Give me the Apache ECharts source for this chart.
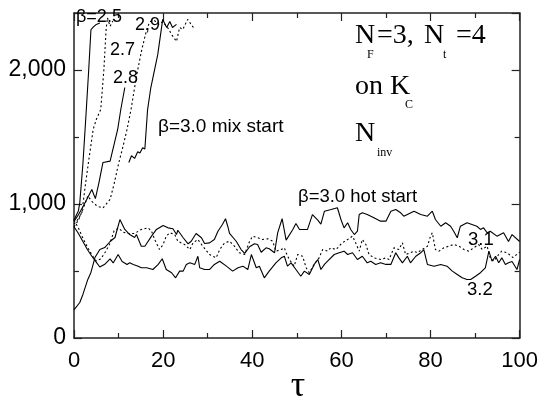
<!DOCTYPE html>
<html>
<head>
<meta charset="utf-8">
<script src="https://cdn.jsdelivr.net/npm/echarts@6/dist/echarts.min.js"></script>
<style>
html,body{margin:0;padding:0;background:#fff;}
#chart{width:541px;height:400px;}
</style>
</head>
<body>
<div id="chart"></div>
<script>
// ---- data: [tau, N_inv] ----
const xTicks = [0, 20, 40, 60, 80, 100];
const yTicks = [0, 1000, 2000];

const beta25 = [[0,880],[1,950],[1.3,1010],[2,1300],[2.7,1670],[3.3,2000],[3.8,2300],[4.3,2320],[5,2340],[5.8,2350]];
const beta27 = [[0,850],[1,890],[1.8,940],[2.5,1130],[3.2,1300],[4.3,1556],[5,1630],[6,1705],[6.7,2000],[7.2,2300],[7.5,2390],[8.1,2325],[8.7,2365]];
const beta28 = [[0,870],[1,920],[2,980],[2.5,1011],[3.1,1048],[4.0,1108],[4.8,1040],[5.6,1160],[6.5,1310],[8.1,1320],[9.8,1556],[10.5,1705],[11.4,1869]];
const beta29 = [[0,830],[1,880],[2,960],[3.1,1060],[4,1020],[5,990],[5.6,980],[6.5,970],[8.1,1034],[9,1150],[10,1300],[11,1430],[11.9,1556],[12.8,1705],[14,1950],[15.2,2150],[16.3,2300],[17,2360],[18,2370],[19,2340],[19.9,2360],[21,2317],[22,2260],[23,2213],[23.7,2317],[24.4,2302],[25.5,2377],[27.1,2302]];
const beta30mix = [[12.3,1310],[12.9,1360],[13.6,1340],[14.3,1390],[14.8,1380],[15.4,1420],[15.9,1410],[16.5,1700],[17.2,1860],[18.8,2116],[19.9,2377],[20.8,2317],[21.5,2362],[22.1,2317],[23,2340]];
const beta30hot = [[0,210],[1.3,265],[2,325],[3.1,437],[3.8,489],[4.7,600],[5.8,660],[6.9,675],[8.1,720],[9.2,750],[10.3,884],[11.4,810],[12.5,772],[13.6,750],[14.0,772],[15.1,685],[15.9,685],[17.4,760],[18.5,810],[20.0,840],[21.1,822],[22.2,815],[23.0,772],[23.3,804],[24.5,748],[25.6,703],[26.3,722],[27.4,780],[28.6,748],[29.3,705],[30.4,710],[31.5,735],[32.3,797],[33.3,847],[34.0,890],[34.5,834],[34.9,780],[36.4,722],[37.5,660],[38.3,631],[39.4,681],[40.5,703],[41.2,698],[42.0,640],[43.1,673],[43.8,666],[45.0,636],[45.7,785],[46.7,890],[47.6,730],[49.1,810],[49.8,854],[50.6,810],[52.4,810],[53.5,920],[54.7,880],[55.4,850],[56.2,946],[57.7,959],[59.1,972],[59.9,884],[60.6,822],[61.4,860],[62.1,810],[62.9,772],[63.6,797],[64.0,922],[64.7,934],[65.8,922],[67.3,897],[68.8,872],[70.0,872],[71.1,946],[72.2,959],[73.3,934],[74.0,909],[74.8,922],[76.3,946],[77.8,922],[79.3,909],[80.4,946],[81.1,884],[82.3,834],[83.4,860],[84.5,834],[85.2,797],[86.0,748],[86.7,834],[88.2,860],[89.3,847],[90.4,834],[91.2,810],[91.9,822],[92.7,785],[93.4,797],[94.9,760],[96.4,785],[97.5,720],[98.3,772],[100,720]];
const beta31 = [[0,880],[1,820],[2,745],[3,680],[4,620],[5,575],[6,590],[7,640],[8,700],[9,800],[10,820],[11,790],[12,780],[13.6,780],[15.1,810],[16.6,822],[17.4,797],[18.1,735],[19.2,660],[20.0,698],[20.7,760],[21.5,785],[22.6,772],[23.3,722],[24.8,698],[26.0,660],[26.7,710],[27.8,735],[28.9,685],[30.4,623],[31.9,598],[32.7,660],[33.8,710],[34.9,722],[36.0,685],[37.1,636],[38.3,623],[39.4,722],[40.1,760],[41.2,748],[42.3,735],[43.5,740],[44.6,722],[45.3,648],[46.5,660],[47.2,673],[47.6,636],[48.3,586],[49.4,536],[50.2,623],[51.3,610],[52.1,524],[52.8,487],[53.9,550],[55.0,598],[55.8,660],[56.9,648],[57.6,673],[58.8,660],[60.2,710],[61.4,735],[62.5,760],[63.2,710],[64.0,648],[64.7,735],[65.5,698],[66.2,623],[67.3,598],[68.8,586],[70.0,598],[70.7,586],[71.8,673],[72.9,660],[73.7,710],[74.4,623],[75.5,636],[76.3,648],[77.0,636],[78.1,660],[79.3,685],[80.0,760],[80.4,785],[81.1,660],[81.9,648],[83.0,673],[84.1,685],[85.2,698],[86.4,685],[87.5,660],[88.6,648],[89.7,673],[90.8,698],[91.6,660],[92.7,685],[93.4,598],[94.2,573],[95.3,623],[96.0,648],[97.2,636],[98.5,600],[100,640]];
const beta32 = [[0,830],[1,780],[2,720],[3,660],[4,610],[4.9,570],[5.8,530],[6.9,550],[8.1,590],[8.8,560],[9.9,623],[10.8,571],[11.9,549],[12.5,561],[13.3,549],[14.4,536],[15.1,524],[16.3,524],[17.7,511],[18.9,549],[19.8,591],[20.7,511],[21.9,487],[22.8,449],[23.7,499],[24.5,499],[25.2,549],[26.0,561],[27.1,549],[27.8,610],[28.2,524],[29.3,511],[30.4,511],[31.5,549],[32.7,573],[34.2,536],[35.6,499],[36.8,524],[37.9,536],[39.0,511],[39.8,623],[40.9,524],[41.6,536],[42.7,449],[43.8,499],[45.3,561],[46.5,598],[47.2,610],[47.9,536],[48.7,561],[49.8,511],[50.9,461],[51.7,499],[52.8,474],[53.9,549],[54.7,586],[55.4,511],[56.2,549],[56.9,573],[58.4,623],[59.5,636],[60.6,648],[61.4,623],[62.5,636],[63.6,586],[64.7,610],[65.8,561],[66.6,573],[67.7,549],[68.8,561],[70.0,549],[71.1,549],[72.2,636],[72.9,598],[73.7,561],[74.8,610],[75.5,561],[76.7,610],[77.8,636],[78.5,660],[79.3,549],[80.8,536],[82.3,549],[83.7,536],[84.9,499],[86.0,474],[87.1,449],[88.2,437],[89.0,437],[90.1,461],[91.2,487],[92.3,524],[93.1,648],[93.8,573],[94.6,610],[95.3,561],[96.0,598],[96.8,549],[97.5,561],[98.3,571],[99.4,511],[100,586]];

const X_MIN = 0, X_MAX = 100, Y_MIN = 0, Y_MAX = 2425;

const chart = echarts.init(document.getElementById('chart'), null, {renderer: 'canvas'});

const SANS = '"Liberation Sans", Arial, sans-serif';
const SERIF = '"Liberation Serif", "Times New Roman", serif';
const axisCol = '#222';

function axisCommon(extra) {
  return Object.assign({
    type: 'value',
    axisLine: {show: true, onZero: false, lineStyle: {color: axisCol, width: 1.5}},
    axisTick: {show: true, inside: true, length: 8, lineStyle: {color: axisCol, width: 1.2}},
    minorTick: {show: true, splitNumber: 2, length: 5, lineStyle: {color: axisCol, width: 1.2}},
    splitLine: {show: false},
    minorSplitLine: {show: false}
  }, extra);
}

function solid(data) {
  return {type: 'line', data: data, showSymbol: false, symbol: 'none', xAxisIndex: 0, yAxisIndex: 0,
    lineStyle: {color: '#000', width: 1.1}, animation: false, silent: true};
}
function dotted(data) {
  return {type: 'line', data: data, showSymbol: false, symbol: 'none', xAxisIndex: 0, yAxisIndex: 0,
    lineStyle: {color: '#000', width: 1.1, type: [2, 2.5]}, animation: false, silent: true};
}

function txt(x, y, text, size, family, align) {
  return {type: 'text', x: x, y: y, silent: true, z: 100,
    style: {text: text, fontSize: size, fontFamily: family, fill: '#000',
      align: align || 'left', textAlign: align || 'left',
      verticalAlign: 'middle', textVerticalAlign: 'middle'}};
}

const option = {
  animation: false,
  backgroundColor: '#fff',
  grid: {left: 74, right: 20, top: 13, bottom: 62, containLabel: false},
  xAxis: [
    axisCommon({position: 'bottom', min: X_MIN, max: X_MAX, interval: 20,
      axisLabel: {show: true, fontSize: 22, fontFamily: SANS, color: '#000', margin: 12,
        formatter: v => xTicks.includes(v) ? String(v) : ''}}),
    axisCommon({position: 'top', min: X_MIN, max: X_MAX, interval: 20, axisLabel: {show: false}})
  ],
  yAxis: [
    axisCommon({position: 'left', min: Y_MIN, max: Y_MAX, interval: 1000,
      axisLabel: {show: true, fontSize: 23, fontFamily: SANS, color: '#000', margin: 8,
        showMaxLabel: false,
        formatter: v => yTicks.includes(v) ? v.toLocaleString('en-US') : ''}}),
    axisCommon({position: 'right', min: Y_MIN, max: Y_MAX, interval: 1000, axisLabel: {show: false}})
  ],
  series: [
    solid(beta30hot), dotted(beta31), solid(beta32),
    solid(beta25), dotted(beta27), solid(beta28), dotted(beta29), solid(beta30mix)
  ],
  graphic: [
    txt(76, 17, 'β=2.5', 18, SANS),
    txt(110, 50, '2.7', 18, SANS),
    txt(113, 78, '2.8', 18, SANS),
    txt(135, 25, '2,9', 18, SANS),
    txt(158, 127, 'β=3.0 mix start', 19, SANS),
    txt(298, 197, 'β=3.0 hot start', 18.5, SANS),
    txt(468, 240, '3.1', 18.5, SANS),
    txt(467, 290, '3.2', 18.5, SANS),
    // N_F=3, N_t=4
    txt(355, 36, 'N', 28, SERIF),
    txt(367, 55, 'F', 12, SERIF),
    txt(377, 36, '=3,', 28, SERIF),
    txt(424, 36, 'N', 28, SERIF),
    txt(443, 55, 't', 12, SERIF),
    txt(456, 36, '=4', 28, SERIF),
    // on K_C
    txt(355, 87, 'on K', 28, SERIF),
    txt(405, 105, 'C', 12, SERIF),
    // N_inv
    txt(355, 134, 'N', 28, SERIF),
    txt(377, 153, 'inv', 12, SERIF),
    // axis title
    txt(298, 387, 'τ', 36, SERIF, 'center')
  ]
};
chart.setOption(option);
</script>
</body>
</html>
